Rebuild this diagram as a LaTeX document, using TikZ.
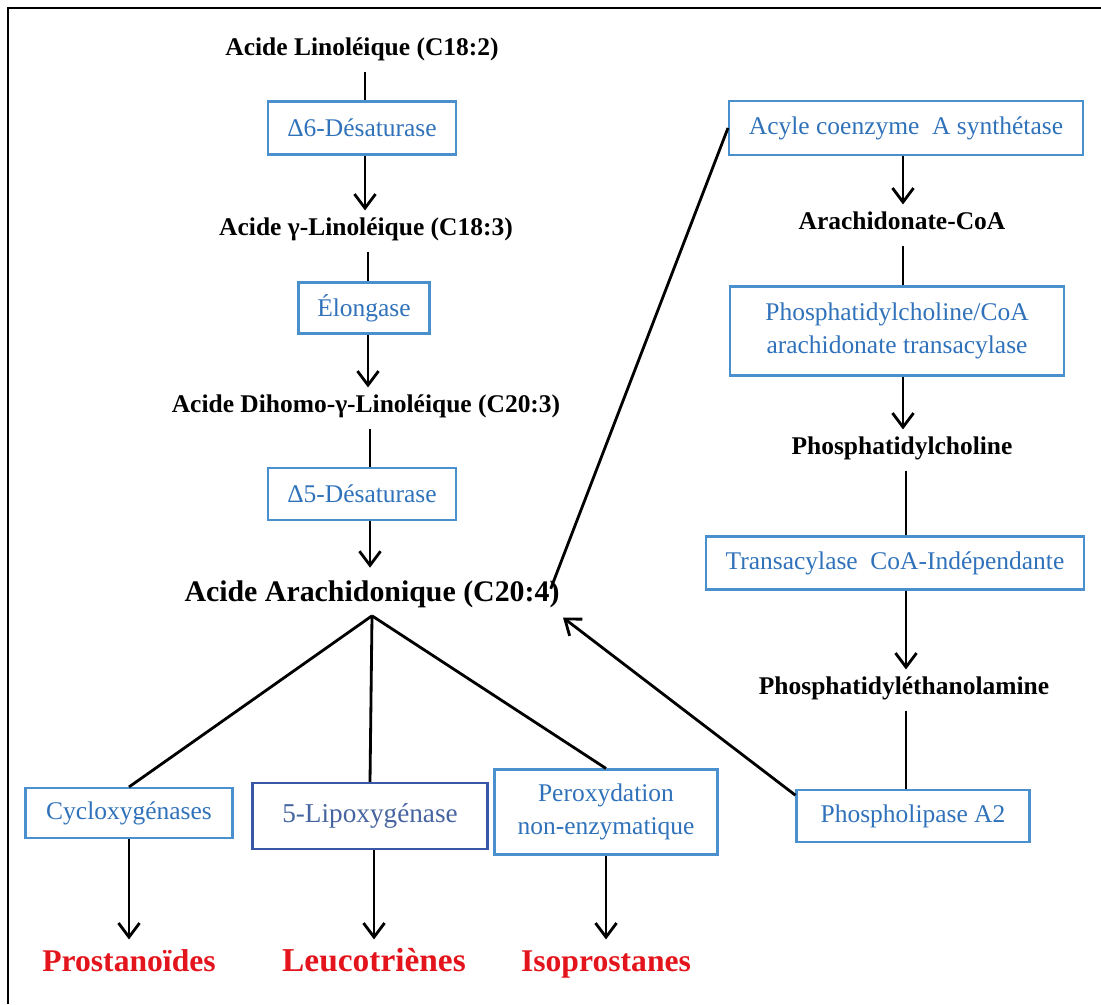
\documentclass[tikz,border=0pt]{standalone}
\usepackage{fontspec}
\setmainfont{Liberation Serif}
\usetikzlibrary{arrows.meta}
\definecolor{enzblue}{RGB}{48,114,186}
\definecolor{enzframe}{RGB}{74,144,206}
\definecolor{lipoframe}{RGB}{58,86,166}
\definecolor{lipotext}{RGB}{70,100,160}
\definecolor{prodred}{RGB}{228,20,28}
\begin{document}
\begin{tikzpicture}[x=0.02cm,y=-0.02cm,
    acid/.style={font=\fontsize{14.5}{17}\selectfont\bfseries, inner sep=2pt, outer sep=5pt,
      text height=0.72em, text depth=0.22em},
    enz/.style={draw=enzframe, text=enzblue, line width=1.2pt, align=center, inner sep=2pt,
      font=\fontsize{14.5}{19}\selectfont},
    prod/.style={text=prodred, font=\fontsize{18}{21}\selectfont\bfseries, inner sep=2pt, outer sep=9pt,
      text height=0.72em, text depth=0.22em},
    link/.style={line width=1.6pt},
    arr/.style={link, -{Straight Barb[length=8pt,width=12pt]}}]

    \useasboundingbox (0,0) rectangle (1101,1004);
    \draw[line width=1.1pt] (8,1004) -- (8,8) -- (1101,8);

    \node[acid] (lin) at (362,51) {Acide Linoléique (C18:2)};
    \node[enz, minimum width=3.76cm, minimum height=1.06cm] (des6) at (362,128) {Δ6-Désaturase};
    \node[acid] (glin) at (366,231) {Acide γ-Linoléique (C18:3)};
    \node[enz, minimum width=2.62cm, minimum height=1.02cm] (elong) at (364,308) {Élongase};
    \node[acid] (dglin) at (366,408) {Acide Dihomo-γ-Linoléique (C20:3)};
    \node[enz, minimum width=3.76cm, minimum height=1.04cm] (des5) at (362,494) {Δ5-Désaturase};
    \node[acid, font=\fontsize{17}{20}\selectfont\bfseries, outer sep=0pt] (arach) at (372,597) {Acide Arachidonique (C20:4)};
    \coordinate (fork) at ([yshift=-4pt]arach.south);

    \node[enz, minimum width=4.14cm, minimum height=1.0cm] (cox) at (129,813) {Cycloxygénases};
    \node[enz, draw=lipoframe, text=lipotext, font=\fontsize{15.5}{19}\selectfont,
      minimum width=4.7cm, minimum height=1.32cm] (lox) at (370,816) {5-Lipoxygénase};
    \node[enz, minimum width=4.46cm, minimum height=1.7cm] (perox) at (606,812) {Peroxydation\\non-enzymatique};
    \node[prod] (prosta) at (129,967) {Prostanoïdes};
    \node[prod, font=\fontsize{19}{22}\selectfont\bfseries] (leuco) at (374,967) {Leucotriènes};
    \node[prod] (isop) at (606,967) {Isoprostanes};

    \node[enz, minimum width=7.08cm, minimum height=1.08cm] (acs) at (906,128) {Acyle coenzyme~ A synthétase};
    \node[acid] (acoa) at (902,225) {Arachidonate-CoA};
    \node[enz, minimum width=6.68cm, minimum height=1.78cm] (pctr) at (897,331) {Phosphatidylcholine/CoA\\arachidonate transacylase};
    \node[acid] (pc) at (902,450) {Phosphatidylcholine};
    \node[enz, minimum width=7.56cm, minimum height=1.06cm] (tci) at (895,563) {Transacylase~ CoA-Indépendante};
    \node[acid] (pe) at (904,690) {Phosphatidyléthanolamine};
    \node[enz, minimum width=4.66cm, minimum height=1.04cm] (pla) at (913,816) {Phospholipase A2};

    \coordinate (c1) at (365,0);
    \coordinate (c2) at (368,0);
    \coordinate (c3) at (370,0);
    \coordinate (c4) at (903,0);
    \coordinate (c5) at (906,0);

    \draw[link] (lin.south -| c1) -- (des6.north -| c1);
    \draw[arr] (des6.south -| c1) -- (glin.north -| c1);
    \draw[link] (glin.south -| c2) -- (elong.north -| c2);
    \draw[arr] (elong.south -| c2) -- (dglin.north -| c2);
    \draw[link] (dglin.south -| c3) -- (des5.north -| c3);
    \draw[arr] (des5.south -| c3) -- ([yshift=10pt]arach.north -| c3);

    \draw[link] (fork) -- (cox.north);
    \draw[link] (fork) -- (lox.north);
    \draw[link] (fork) -- (perox.north);
    \draw[arr] (cox) -- (prosta);
    \draw[arr] (lox.south -| leuco) -- (leuco);
    \draw[arr] (perox) -- (isop);

    \draw[link] ([xshift=-7pt,yshift=-2pt]arach.north east) -- (acs.west);
    \draw[arr] (acs.south -| c4) -- (acoa.north -| c4);
    \draw[link] (acoa.south -| c4) -- (pctr.north -| c4);
    \draw[arr] (pctr.south -| c4) -- (pc.north -| c4);
    \draw[link] (pc.south -| c5) -- (tci.north -| c5);
    \draw[arr] (tci.south -| c5) -- (pe.north -| c5);
    \draw[link] (pe.south -| c5) -- (pla.north -| c5);
    \draw[arr] (pla.170) -- ([yshift=-5pt]arach.south east);

\end{tikzpicture}
\end{document}
